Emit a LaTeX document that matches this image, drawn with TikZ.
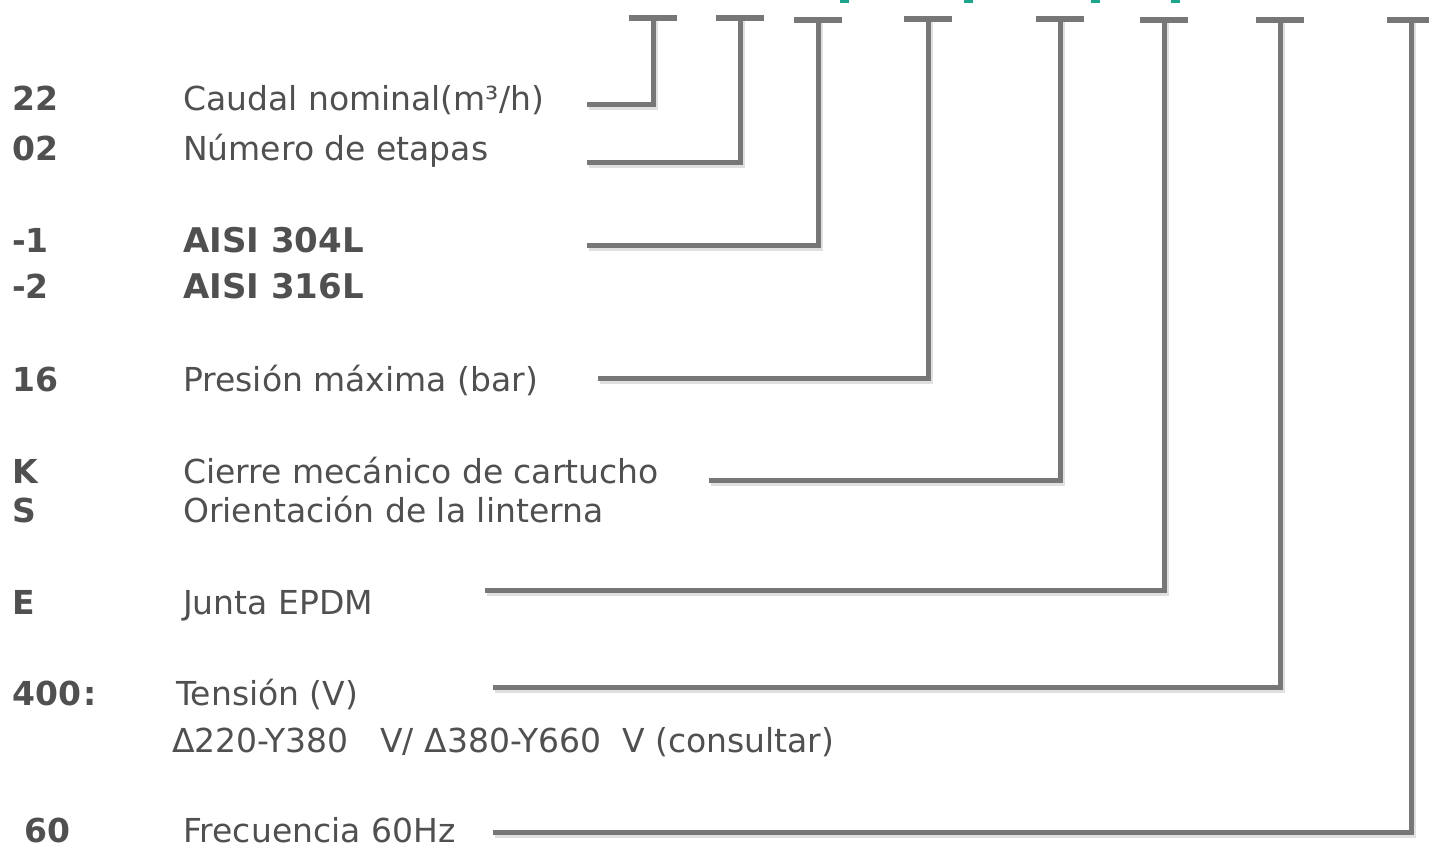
\documentclass[tikz,border=0pt]{standalone}
\usepackage{fontspec}
\setmainfont{DejaVu Sans}
\begin{document}
\begin{tikzpicture}[x=1bp,y=-1bp,
  code/.style={anchor=base west,inner sep=0pt,text=txtgray,font=\fontsize{33bp}{38bp}\selectfont\bfseries},
  desc/.style={anchor=base west,inner sep=0pt,text=txtgray,font=\fontsize{33bp}{38bp}\selectfont},
  descb/.style={anchor=base west,inner sep=0pt,text=txtgray,font=\fontsize{34bp}{38bp}\selectfont\bfseries},
  conn/.style={draw=lngray,line width=5bp,line join=miter},
  shad/.style={draw=black!12,line width=5bp,line join=miter},
  tbar/.style={draw=lngray,line width=6.5bp},
  tealmark/.style={fill=tealc,draw=none}]
\definecolor{txtgray}{HTML}{505050}
\definecolor{lngray}{HTML}{777777}
\definecolor{tealc}{HTML}{1AA58C}
\useasboundingbox (0,0) rectangle (1429,846);
\fill[white] (0,0) rectangle (1429,846);

% teal remnants at top edge
\foreach \tx in {840,964,1091,1171}
  \fill[tealmark] (\tx,0) rectangle ++(9,2.5);

% texts
\node[code] (c1) at (12,110) {22};
\node[desc] (d1) at (183,110) {Caudal nominal(m³/h)};
\node[code] (c2) at (12,160) {02};
\node[desc] (d2) at (183,160) {Número de etapas};
\node[code] (c3) at (12,252) {-1};
\node[descb] (d3) at (183,252) {AISI 304L};
\node[code] (c4) at (12,298) {-2};
\node[descb] (d4) at (183,298) {AISI 316L};
\node[code] (c5) at (12,391) {16};
\node[desc] (d5) at (183,391) {Presión máxima (bar)};
\node[code] (c6) at (12,483) {K};
\node[desc] (d6) at (183,483) {Cierre mecánico de cartucho};
\node[code] (c7) at (12,522) {S};
\node[desc] (d7) at (183,522) {Orientación de la linterna};
\node[code] (c8) at (12,614) {E};
\node[desc] (d8) at (183,614) {Junta EPDM};
\node[code] (c9) at (12,705) {400\kern2bp:};
\node[desc] (d9) at (176,705) {Tensión (V)};
\node[desc] (d10) at (172,752) {Δ220-Y380\ \ \ V/ Δ380-Y660\ \ V (consultar)};
\node[code] (c11) at (24,842) {60};
\node[desc] (d11) at (183,842) {Frecuencia 60Hz};

% connector coordinates: left end, corner, top
\foreach \i/\lx/\hy/\sx/\ty in {1/587/104/653/18, 2/587/162/740/18, 3/587/245/818/20, 4/598/378/928/19, 5/709/480/1060/19, 6/485/590/1164/20, 7/493/687/1280/20, 8/493/832/1411/20}{
  \coordinate (L\i) at (\lx,\hy);
  \coordinate (K\i) at (\sx,\hy);
  \coordinate (T\i) at (\sx,\ty);
  \coordinate (TL\i) at (\sx-24,\ty);
  \coordinate (TR\i) at (\sx+24,\ty);
}
% soft shadows
\foreach \i in {1,...,8}{
  \draw[shad,transform canvas={shift={(2bp,-3bp)}}] (L\i) -- (K\i) -- (T\i);
}
\foreach \i in {1,...,8}{
  \draw[conn] (L\i) -- (K\i) -- (T\i);
  \draw[tbar] (TL\i) -- (TR\i);
}
\end{tikzpicture}
\end{document}
